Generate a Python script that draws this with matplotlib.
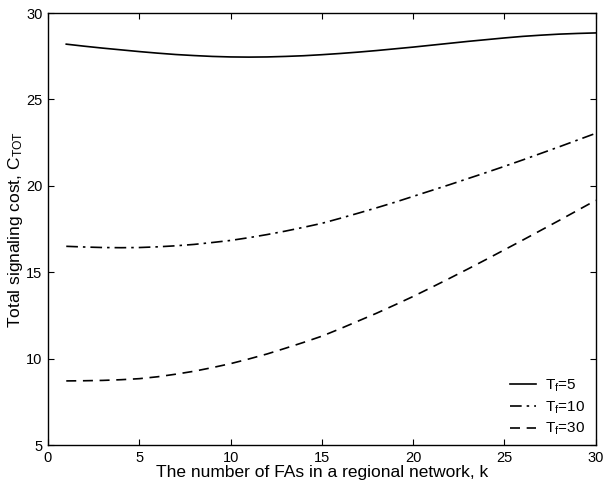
import numpy as np
import matplotlib.pyplot as plt

plt.rcParams['font.family'] = ['Liberation Sans', 'DejaVu Sans']

k = np.arange(1, 31)

# values
cost_tf5 = [28.20, 28.08, 27.97, 27.87, 27.77, 27.68, 27.60, 27.54, 27.49, 27.46,
            27.45, 27.46, 27.49, 27.53, 27.59, 27.66, 27.74, 27.83, 27.93, 28.03,
            28.14, 28.25, 28.36, 28.46, 28.56, 28.65, 28.72, 28.78, 28.82, 28.85]
cost_tf10 = [16.50, 16.46, 16.43, 16.42, 16.43, 16.47, 16.53, 16.61, 16.72, 16.84,
             17.00, 17.18, 17.38, 17.60, 17.83, 18.12, 18.42, 18.73, 19.05, 19.39,
             19.73, 20.07, 20.42, 20.77, 21.13, 21.50, 21.88, 22.26, 22.65, 23.04]
cost_tf30 = [8.71, 8.72, 8.74, 8.78, 8.84, 8.95, 9.10, 9.27, 9.48, 9.71,
             9.98, 10.27, 10.60, 10.94, 11.30, 11.73, 12.18, 12.63, 13.11, 13.60,
             14.12, 14.65, 15.19, 15.74, 16.30, 16.86, 17.43, 18.00, 18.58, 19.16]

fig = plt.figure(figsize=(6.03, 4.87), dpi=100)
ax = fig.add_axes([0.0796, 0.0862, 0.9084, 0.887])

ax.plot(k, cost_tf5, color='black', lw=1.2, linestyle='-', label=r'T$\mathregular{_f}$=5')
ax.plot(k, cost_tf10, color='black', lw=1.2, linestyle=(0, (7, 3, 1.5, 3)), label=r'T$\mathregular{_f}$=10')
ax.plot(k, cost_tf30, color='black', lw=1.2, linestyle=(0, (6, 4)), label=r'T$\mathregular{_f}$=30')

ax.set_xlim(0, 30)
ax.set_ylim(5, 30)
ax.set_xticks(range(0, 31, 5))
ax.set_yticks(range(5, 31, 5))
ax.tick_params(direction='in', top=True, right=True, labelsize=10.5, length=4, width=0.8, pad=4)
for s in ax.spines.values():
    s.set_linewidth(1.0)

ax.set_xlabel('The number of FAs in a regional network, k', fontsize=12.5, labelpad=0)
ax.set_ylabel(r'Total signaling cost, C$\mathregular{_{TOT}}$', fontsize=12.5, labelpad=0.5)

ax.legend(loc='lower right', bbox_to_anchor=(1.0, -0.007), frameon=False, fontsize=11,
          handlelength=1.7, labelspacing=0.35, handletextpad=0.6, borderaxespad=0.3)

fig.savefig('out.png', dpi=100)
